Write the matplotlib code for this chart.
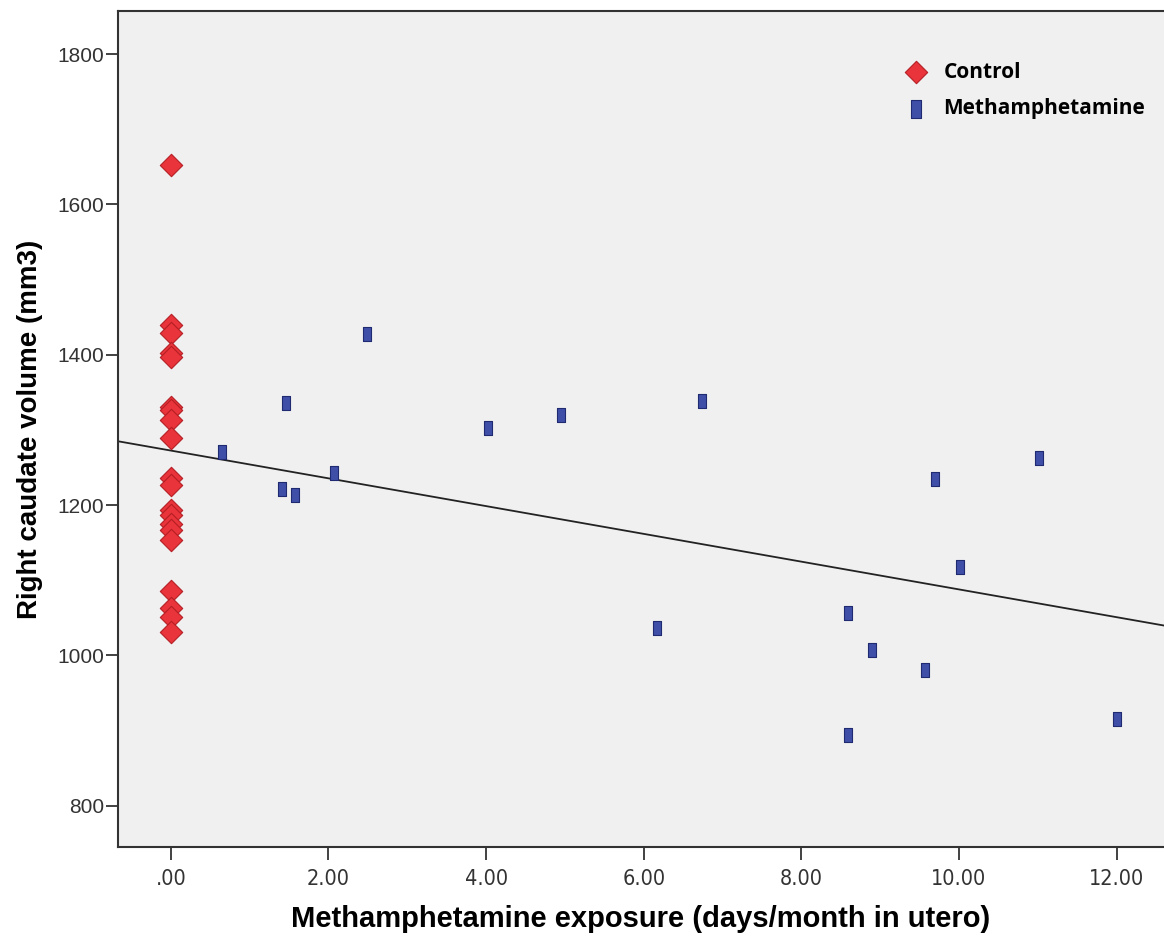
import numpy as np
import matplotlib.pyplot as plt

# control group: exposure 0
control_x = [0.0] * 20
control_y = [1652, 1439, 1429, 1402, 1397, 1330, 1327, 1313, 1289, 1236,
             1227, 1193, 1187, 1175, 1167, 1154, 1085, 1063, 1051, 1031]

# methamphetamine group
meth_x = [0.65, 1.41, 1.46, 1.57, 2.07, 2.49, 4.03, 4.95, 6.17, 6.74,
          8.59, 8.59, 8.89, 9.70, 9.57, 10.01, 11.01, 12.0]
meth_y = [1271, 1222, 1336, 1214, 1242, 1427, 1303, 1320, 1037, 1338,
          1056, 894, 1007, 1235, 980, 1117, 1263, 915]

xticks = [0, 2, 4, 6, 8, 10, 12]
xticklabels = [".00", "2.00", "4.00", "6.00", "8.00", "10.00", "12.00"]
yticks = [800, 1000, 1200, 1400, 1600, 1800]

fig = plt.figure(figsize=(11.64, 9.38), dpi=100)
ax = fig.add_axes([0.1014, 0.097, 0.8986, 0.891])
ax.set_facecolor("#f0f0f0")

rect = [(-0.5, -1), (0.5, -1), (0.5, 1), (-0.5, 1), (-0.5, -1)]

ax.scatter(control_x, control_y, marker="D", s=130, c="#e8343a",
           edgecolors="#b51f25", linewidths=0.8, zorder=3, label="Control")
ax.scatter(meth_x, meth_y, marker=rect, s=110, c="#3f4fa8",
           edgecolors="#1f2a70", linewidths=0.8, zorder=3, label="Methamphetamine")

# total fit line
all_x = np.array(control_x + meth_x)
all_y = np.array(control_y + meth_y)
b, a = np.polyfit(all_x, all_y, 1)
xl = np.array([-0.67, 12.6])
ax.plot(xl, a + b * xl, color="#222222", lw=1.3, zorder=2)

ax.set_xlim(-0.67, 12.6)
ax.set_ylim(745, 1857)
ax.set_xticks(xticks)
ax.set_xticklabels(xticklabels)
ax.set_yticks(yticks)

for sp in ["left", "bottom", "top"]:
    ax.spines[sp].set_color("#333333")
    ax.spines[sp].set_linewidth(1.5)
ax.spines["right"].set_visible(False)

ax.tick_params(direction="out", length=9, width=1.3, color="#333333",
               labelcolor="#333333")
ax.tick_params(axis="x", pad=7)
ax.tick_params(axis="y", pad=1)
for lab in ax.get_xticklabels():
    lab.set_family("DejaVu Sans")
    lab.set_stretch("condensed")
    lab.set_fontsize(15.5)
for lab in ax.get_yticklabels():
    lab.set_family("Liberation Sans")
    lab.set_fontsize(15)

ax.set_xlabel("Methamphetamine exposure (days/month in utero)", family="Liberation Sans",
              fontweight="bold", fontsize=21, labelpad=11)
ax.set_ylabel("Right caudate volume (mm3)", family="Liberation Sans",
              fontweight="bold", fontsize=20, labelpad=10)

leg = ax.legend(loc="upper right", bbox_to_anchor=(1.0, 0.962), frameon=False,
                prop={"family": "Open Sans", "weight": "bold", "size": 15},
                handletextpad=0.3, labelspacing=0.75, borderaxespad=0.5)
leg.legend_handles[1].set_sizes([170])

plt.savefig("out.png", dpi=100)
